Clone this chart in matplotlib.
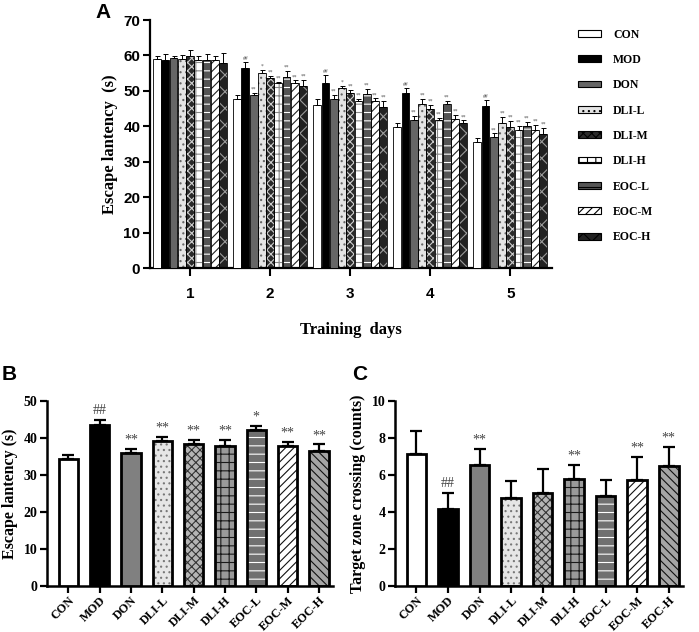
import matplotlib
matplotlib.use("Agg")
import matplotlib.pyplot as plt
import numpy as np
from matplotlib.patches import Patch

GROUPS = ["CON", "MOD", "DON", "DLI-L", "DLI-M", "DLI-H", "EOC-L", "EOC-M", "EOC-H"]
DAYS = [1, 2, 3, 4, 5]

# panel A: escape latency per training day (rows = groups, cols = days)
A_MEAN = [
    [58.9, 47.8, 46.0, 39.9, 35.5],
    [58.8, 56.4, 52.3, 49.4, 45.7],
    [59.3, 48.8, 47.8, 41.9, 36.9],
    [59.0, 55.0, 50.8, 46.2, 41.0],
    [59.8, 53.5, 49.3, 44.9, 39.9],
    [58.8, 52.1, 47.0, 41.9, 38.9],
    [58.8, 54.0, 49.2, 46.4, 40.1],
    [58.7, 52.2, 47.0, 42.1, 38.9],
    [58.0, 51.5, 45.5, 40.8, 37.8],
]
A_ERR = [
    [1.0, 1.1, 1.7, 1.0, 1.3],
    [1.7, 1.8, 2.1, 1.4, 1.7],
    [0.5, 0.7, 1.0, 1.0, 1.1],
    [1.0, 1.0, 0.7, 1.6, 1.7],
    [1.8, 0.7, 0.9, 1.2, 1.7],
    [1.0, 0.4, 0.8, 0.5, 1.2],
    [1.5, 1.6, 1.3, 0.8, 1.1],
    [1.2, 0.8, 0.9, 1.2, 1.5],
    [2.8, 1.7, 1.7, 0.9, 1.8],
]
A_SIG = [
    ["", "", "", "", ""],
    ["", "##", "##", "##", "##"],
    ["", "**", "**", "**", "**"],
    ["", "*", "*", "**", "**"],
    ["", "**", "**", "**", "**"],
    ["", "**", "**", "**", "**"],
    ["", "**", "**", "**", "**"],
    ["", "**", "**", "**", "**"],
    ["", "**", "**", "**", "**"],
]

# panel B: escape latency, probe
B_MEAN = [34.4, 43.5, 36.0, 39.2, 38.5, 37.9, 42.1, 37.8, 36.5]
B_ERR = [1.1, 1.5, 1.0, 1.0, 1.0, 1.6, 1.1, 1.1, 1.8]
B_SIG = ["", "##", "**", "**", "**", "**", "*", "**", "**"]

# panel C: target zone crossings
C_MEAN = [7.15, 4.16, 6.56, 4.76, 5.05, 5.77, 4.86, 5.75, 6.48]
C_ERR = [1.23, 0.89, 0.85, 0.90, 1.27, 0.77, 0.85, 1.22, 1.05]
C_SIG = ["", "##", "**", "", "", "**", "", "**", "**"]

# (face, hatch, hatch colour) per group
STYLE_A = [
    ("white", "", "k"),
    ("black", "", "k"),
    ("#666666", "", "k"),
    ("#e4e4e4", "...", "#666666"),
    ("#2a2a2a", "xxxx", "#cfcfcf"),
    ("white", "++", "#888888"),
    ("#555555", "--", "white"),
    ("white", "////", "#222222"),
    ("#222222", "xx", "#9a9a9a"),
]
STYLE_BC = [
    ("white", "", "k"),
    ("black", "", "k"),
    ("#808080", "", "k"),
    ("#e6e6e6", "...", "#777777"),
    ("#b5b5b5", "xxxx", "#333333"),
    ("#9a9a9a", "++", "#1a1a1a"),
    ("#707070", "--", "white"),
    ("white", "////", "#111111"),
    ("#a5a5a5", "\\\\\\\\", "#111111"),
]

SERIF = ["Liberation Serif", "DejaVu Serif"]
SANS = ["Liberation Sans", "DejaVu Sans"]
NARROW = ["Liberation Sans Narrow", "Liberation Sans", "DejaVu Sans"]

plt.rcParams["hatch.linewidth"] = 0.8


def styled_bar(ax, x, h, w, face, hatch, hcol, lw):
    if hatch:
        ax.bar(x, h, w, color=face, hatch=hatch, edgecolor=hcol, linewidth=0, zorder=2)
        ax.bar(x, h, w, facecolor="none", edgecolor="black", linewidth=lw, zorder=3)
    else:
        ax.bar(x, h, w, color=face, edgecolor="black", linewidth=lw, zorder=3)


def style_axes(ax, lw):
    for s in ["top", "right"]:
        ax.spines[s].set_visible(False)
    for s in ["left", "bottom"]:
        ax.spines[s].set_linewidth(lw)


fig = plt.figure(figsize=(6.99, 6.32), dpi=100)

# ---------------- panel A ----------------
axA = fig.add_axes([150 / 699, 1 - 268 / 632, 402 / 699, 248 / 632])
step = 0.103
bw = 0.097
n = len(GROUPS)
for g in range(n):
    face, hatch, hcol = STYLE_A[g]
    xs = np.array(DAYS) + (g - (n - 1) / 2) * step
    styled_bar(axA, xs, A_MEAN[g], bw, face, hatch, hcol, 0.6)
    axA.errorbar(xs, A_MEAN[g], yerr=[np.zeros(len(DAYS)), A_ERR[g]], fmt="none",
                 ecolor="black", elinewidth=0.7, capsize=1.8, capthick=0.7, zorder=4)
    for d in range(len(DAYS)):
        if A_SIG[g][d]:
            axA.text(xs[d], A_MEAN[g][d] + A_ERR[g][d] + 0.3, A_SIG[g][d],
                     ha="center", va="bottom", fontsize=4, color="#555555",
                     family=SERIF, style="italic" if g == 1 else "normal")
axA.set_xlim(0.5, 5.52)
axA.set_ylim(0, 70)
axA.set_yticks(range(0, 71, 10))
axA.set_xticks(DAYS)
style_axes(axA, 1.6)
axA.tick_params(axis="y", length=5, width=1.5, pad=2)
axA.tick_params(axis="x", length=6, width=1.5, pad=8)
for lab in axA.get_yticklabels() + axA.get_xticklabels():
    lab.set_family(NARROW)
    lab.set_fontweight("bold")
    lab.set_fontsize(11)
axA.set_ylabel("Escape lantency  (s)", family=SERIF, fontweight="bold", fontsize=12, labelpad=4)
axA.set_xlabel("Training  days", family=SERIF, fontweight="bold", fontsize=12, labelpad=15)

handles = []
for g in range(n):
    face, hatch, hcol = STYLE_A[g]
    handles.append(Patch(facecolor=face, hatch=hatch, edgecolor="black", linewidth=0.8))
leg = fig.legend(handles, GROUPS, loc="upper left", bbox_to_anchor=(567 / 699, 1 - 18 / 632),
                 frameon=False, handlelength=2.0, handleheight=0.5, labelspacing=1.13,
                 handletextpad=1.0, prop={"family": SERIF, "weight": "bold", "size": 8.5})

fig.text(95 / 699, 1 - 12 / 632, "A", family=SANS, fontweight="bold", fontsize=15, va="center")


# ---------------- panels B, C ----------------
def small_panel(rect, means, errs, sigs, ylim, yticks, ylabel, sig_off):
    ax = fig.add_axes(rect)
    xs = np.arange(len(GROUPS))
    for g in range(n):
        face, hatch, hcol = STYLE_BC[g]
        styled_bar(ax, xs[g], means[g], 0.62, face, hatch, hcol, 2.0)
    ax.errorbar(xs, means, yerr=[np.zeros(n), errs], fmt="none", ecolor="black",
                elinewidth=1.6, capsize=4, capthick=1.6, zorder=4)
    for g in range(n):
        if sigs[g]:
            ax.text(xs[g], means[g] + errs[g] + sig_off, sigs[g], ha="center", va="bottom",
                    fontsize=10, color="#444444", family=SERIF)
    ax.set_xlim(-0.68, 8.45)
    ax.set_ylim(*ylim)
    ax.set_yticks(yticks)
    ax.set_xticks(xs)
    ax.set_xticklabels(GROUPS, rotation=45, ha="right", rotation_mode="anchor")
    style_axes(ax, 1.8)
    ax.tick_params(axis="y", length=5, width=1.6, pad=2)
    ax.tick_params(axis="x", length=5, width=1.6, pad=1)
    for lab in ax.get_yticklabels():
        lab.set_family(SERIF)
        lab.set_fontweight("bold")
        lab.set_fontsize(10)
    for lab in ax.get_xticklabels():
        lab.set_family(SERIF)
        lab.set_fontweight("bold")
        lab.set_fontsize(8.8)
    ax.set_ylabel(ylabel, family=SERIF, fontweight="bold", fontsize=11.5, labelpad=4)
    return ax


axB = small_panel([47 / 699, 1 - 586 / 632, 286 / 699, 185 / 632], B_MEAN, B_ERR, B_SIG,
                  (0, 50), range(0, 51, 10), "Escape lantency (s)", 0.6)
axC = small_panel([395 / 699, 1 - 586 / 632, 288 / 699, 185 / 632], C_MEAN, C_ERR, C_SIG,
                  (0, 10), range(0, 11, 2), "Target zone crossing (counts)", 0.12)

fig.text(2 / 699, 1 - 374 / 632, "B", family=SANS, fontweight="bold", fontsize=15, va="center")
fig.text(352 / 699, 1 - 374 / 632, "C", family=SANS, fontweight="bold", fontsize=15, va="center")

fig.savefig("out.png", dpi=100)
